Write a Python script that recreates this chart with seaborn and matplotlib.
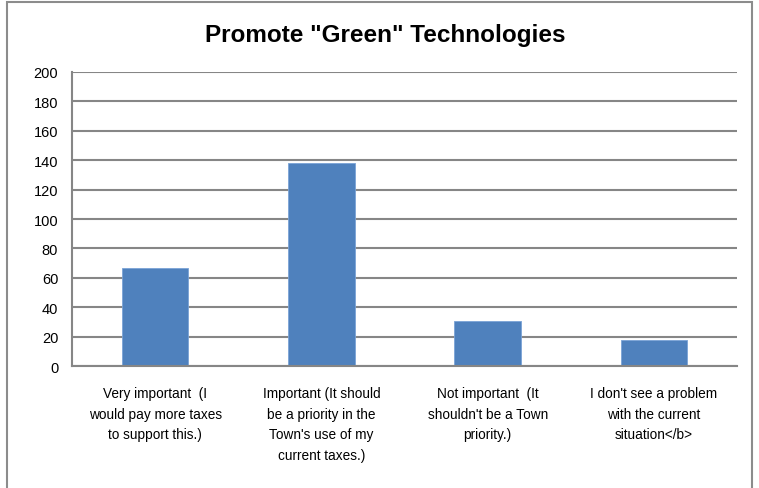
import matplotlib
matplotlib.use("Agg")
import matplotlib.pyplot as plt
from matplotlib.patches import Rectangle
import seaborn as sns
import pandas as pd

categories = [
    "Very important  (I\nwould pay more taxes\nto support this.)",
    "Important (It should\nbe a priority in the\nTown's use of my\ncurrent taxes.)",
    "Not important  (It\nshouldn't be a Town\npriority.)",
    "I don't see a problem\nwith the current\nsituation</b>",
]
counts = [67, 138, 31, 18]
y_ticks = list(range(0, 201, 20))

sns.set_style("white")
plt.rcParams["font.family"] = ["Liberation Sans", "DejaVu Sans"]
plt.rcParams["text.color"] = "black"
plt.rcParams["xtick.color"] = "black"
plt.rcParams["ytick.color"] = "black"

df = pd.DataFrame({"category": categories, "count": counts})

fig = plt.figure(figsize=(7.59, 4.89), dpi=100)
ax = fig.add_axes([0.095, 0.249, 0.876, 0.602])

# outer chart frame
fig.patches.append(Rectangle((0.009, -0.05), 0.982, 1.044, transform=fig.transFigure,
                             fill=False, edgecolor="#8c8c8c", linewidth=1.5))

ax.set_axisbelow(True)
ax.yaxis.grid(True, color="#868686", linewidth=1.5)
sns.barplot(data=df, x="category", y="count", color="#4f81bd", width=0.4,
            saturation=1, ax=ax, edgecolor="#7aa3d6", linewidth=0.6)

ax.set_ylim(0, 200)
ax.set_yticks(y_ticks)
ax.set_xlim(-0.5, 3.5)
ax.set_xlabel("")
ax.set_ylabel("")
ax.tick_params(axis="y", labelsize=10.5, length=0, pad=10)
ax.tick_params(axis="x", labelsize=9.8, length=0, pad=14)
for lab in ax.get_xticklabels():
    lab.set_linespacing(1.62)

for side in ["top", "right"]:
    ax.spines[side].set_visible(False)
for side in ["left", "bottom"]:
    ax.spines[side].set_color("#868686")
    ax.spines[side].set_linewidth(1.5)

fig.text(0.508, 0.928, 'Promote "Green" Technologies', ha="center", va="center",
         fontsize=17.5, fontweight="bold", color="black")

fig.savefig("out.png", dpi=100)
